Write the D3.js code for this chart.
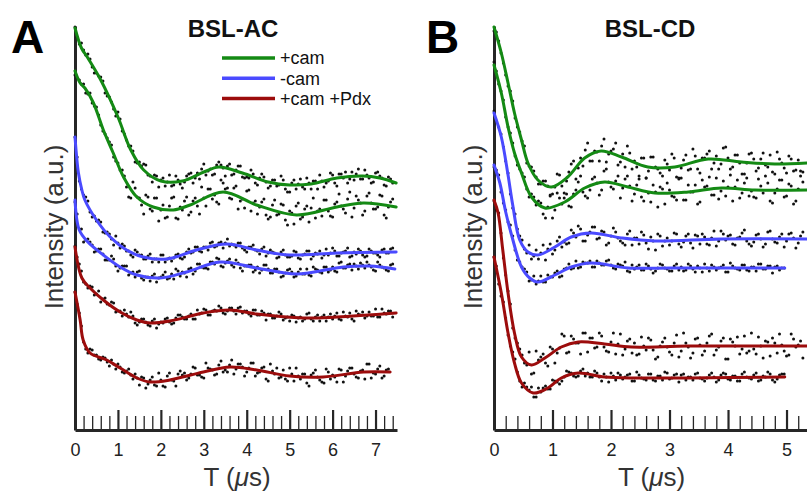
<!DOCTYPE html>
<html>
<head>
<meta charset="utf-8">
<script src="https://cdn.jsdelivr.net/npm/d3@7"></script>
<style>
  body { margin: 0; background: #fff; }
  svg { display: block; font-family: "Liberation Sans", Arial, Helvetica, sans-serif; }
</style>
</head>
<body>
<svg id="chart" width="807" height="492"></svg>
<script>
// ── Data ─────────────────────────────────────────────────────────────────────
// Intensity in arbitrary units (0 = x-axis), time in microseconds.
const seriesNames = ["+cam", "-cam", "+cam +Pdx"];
const ticksA = [0, 1, 2, 3, 4, 5, 6, 7];
const ticksB = [0, 1, 2, 3, 4, 5];
const dtA = 0.1;   // raw traces, panel A: even samples at i*dt, odd samples at (i+0.5)*dt
const dtB = 0.08;  // same for panel B

// Panel A (BSL-AC) fitted curves: [t, intensity]
const fitA_cam1 = [[0,402],[0.15,382],[0.3,372],[0.6,350],[1.0,313],[1.3,280],[1.6,260],[2.0,249],[2.5,249],[3.0,258],[3.35,263],[3.9,257],[4.5,248],[5.0,245],[5.5,246],[6.1,252],[6.7,254],[7.1,252],[7.48,247]];
const fitA_cam2 = [[0,359],[0.12,347],[0.23,342],[0.43,327],[0.66,300],[0.89,277],[1.13,253],[1.44,233],[1.82,223],[2.29,220],[2.68,225],[3.45,238],[4.23,225],[5.16,215],[6.1,223],[6.72,227],[7.48,223]];
const fitA_nocam1 = [[0,293],[0.08,257],[0.16,240],[0.23,230],[0.5,210],[0.82,193],[1.2,180],[1.59,173],[2.14,171],[2.83,180],[3.53,186],[4.23,180],[5.0,175],[6.1,177],[7.48,178]];
const fitA_nocam2 = [[0,230],[0.1,200],[0.3,188],[0.66,175],[1.05,163],[1.44,155],[1.98,152],[2.6,158],[3.38,168],[4.23,162],[5.16,156],[6.25,163],[6.87,164],[7.45,161]];
const fitA_pdx1 = [[0,183],[0.16,152],[0.35,142],[0.66,130],[1.05,118],[1.44,110],[1.75,107],[2.21,109],[2.99,117],[3.61,120],[4.23,116],[5.32,112],[6.1,113],[7.48,117]];
const fitA_pdx2 = [[0,138],[0.12,110],[0.19,90],[0.35,77],[0.74,70],[1.05,62],[1.44,52],[1.75,48],[2.21,50],[2.99,58],[3.61,63],[4.23,60],[5.0,54],[5.78,53],[6.72,58],[7.34,58]];

// Panel A raw data
const dotsA_cam1 = [403,386,380,376,363,357,353,337,333,321,318,299,290,284,268,268,266,255,248,254,250,244,255,245,250,242,254,257,252,251,266,259,255,265,265,254,266,256,264,253,253,260,247,252,253,242,250,244,254,241,238,250,246,243,252,241,249,255,243,249,255,244,256,258,251,250,261,251,255,247,257,254,245,253,247];
const dotsA_cam1_odd = [393,387,375,371,357,354,349,334,328,314,311,296,284,279,267,264,265,254,255,243,252,248,244,254,246,248,256,247,257,261,255,261,256,268,262,264,255,260,264,252,252,256,245,256,248,244,250,245,250,238,247,241,251,241,247,249,241,249,247,257,247,256,252,247,258,256,251,260,252,248,258,252,244,251];
const dotsA_cam2 = [355,350,346,336,327,323,305,296,288,273,267,260,243,232,242,232,216,233,219,232,220,212,224,233,211,220,233,218,232,216,232,241,231,228,250,241,232,242,221,231,239,219,229,223,231,211,225,215,226,210,219,206,227,213,224,222,212,221,230,219,213,228,224,217,238,222,230,215,234,227,221,235,215,223,231];
const dotsA_cam2_odd = [352,346,337,337,324,315,299,292,285,269,260,254,233,248,233,225,235,221,232,209,225,213,232,212,223,229,215,229,224,243,224,241,235,226,247,242,231,244,229,222,240,227,216,228,215,213,230,216,225,205,217,224,211,221,208,232,219,214,230,214,226,236,221,231,213,234,227,219,237,221,223,234,212,228];
const dotsA_nocam1 = [293,249,235,229,213,209,208,197,196,185,187,186,179,175,180,175,171,174,168,171,175,168,172,172,176,171,178,177,183,179,183,180,188,184,188,187,184,185,187,182,178,183,180,176,183,177,178,172,178,175,173,179,172,175,179,171,177,179,175,175,182,174,177,179,173,178,181,175,174,179,177,173,181,177,182];
const dotsA_nocam1_odd = [273,241,233,218,214,210,198,198,191,194,182,184,179,173,178,175,171,176,171,168,175,171,169,175,172,173,181,178,183,178,183,187,183,187,182,191,186,183,187,180,183,185,179,181,174,180,177,173,180,173,174,178,171,176,179,174,176,172,181,177,179,174,178,182,174,176,179,173,181,177,175,180,177,181];
const dotsA_nocam2 = [228,201,188,191,185,179,181,170,170,171,159,164,164,157,153,159,150,153,154,148,153,158,152,151,159,158,153,162,159,166,162,161,168,172,164,167,171,163,167,159,164,165,160,157,165,161,157,161,153,157,161,153,158,156,161,154,161,158,163,158,163,158,168,162,166,166,161,165,168,163,159,165,162,159,166];
const dotsA_nocam2_odd = [216,201,190,188,178,181,176,170,174,164,162,164,155,158,158,152,153,149,156,152,155,151,156,161,154,157,161,156,166,163,162,168,166,171,163,169,165,170,162,164,165,158,163,160,165,157,161,158,154,160,158,154,161,156,155,163,160,157,163,160,159,167,162,165,160,164,167,162,165,160,168,163,160,165];
const dotsA_pdx1 = [184,166,148,142,143,136,128,132,125,127,119,114,116,118,107,108,111,105,109,102,108,111,108,107,115,113,111,116,111,116,121,115,119,119,122,116,122,119,122,117,119,114,120,115,117,116,112,114,116,112,109,114,112,109,116,111,113,109,115,113,111,117,110,114,117,109,116,118,114,114,121,113,117,119,113];
const dotsA_pdx1_odd = [173,159,146,144,135,139,131,126,128,118,119,120,113,114,105,111,108,104,111,106,107,112,106,112,115,111,114,111,120,117,120,115,120,124,117,119,122,116,123,119,116,120,115,119,110,116,112,118,110,113,115,108,113,111,117,109,115,113,109,116,114,111,118,113,111,119,115,112,118,114,113,121,116,119];
const dotsA_pdx2 = [138,117,88,77,80,75,70,72,64,66,66,58,59,55,56,45,52,46,53,44,50,43,57,49,56,55,50,56,62,55,52,62,60,56,69,60,65,56,66,63,58,67,54,58,63,49,59,62,53,51,62,49,54,56,47,55,60,50,47,58,55,48,60,54,62,56,52,60,66,52,56,64,54,61];
const dotsA_pdx2_odd = [126,104,81,81,75,71,73,68,70,61,63,57,61,51,52,53,42,50,45,57,44,54,50,44,59,57,52,63,55,53,67,61,55,65,58,58,70,61,66,54,62,67,57,62,51,66,56,52,60,49,56,62,51,56,44,57,53,48,61,51,53,61,48,59,62,53,59,51,66,57,61,52,60];

// Panel B (BSL-CD) fitted curves: [t, intensity]
const fitB_cam1 = [[0,403],[0.125,377],[0.24,347],[0.35,317],[0.47,290],[0.58,267],[0.75,250],[0.98,243],[1.26,253],[1.55,272],[1.83,279],[2.18,273],[2.63,263],[3.09,263],[3.66,271],[4.23,268],[4.8,266],[5.35,267]];
const fitB_cam2 = [[0,365],[0.125,337],[0.24,303],[0.35,277],[0.47,257],[0.64,233],[0.87,222],[1.21,228],[1.55,242],[1.89,248],[2.29,243],[2.75,237],[3.32,238],[3.89,242],[4.46,240],[5.35,240]];
const fitB_nocam1 = [[0,317],[0.125,293],[0.24,255],[0.32,225],[0.44,190],[0.58,178],[0.75,175],[1.04,183],[1.32,193],[1.66,197],[2.18,192],[2.75,189],[3.89,191],[5.35,191]];
const fitB_nocam2 = [[0,265],[0.1,247],[0.2,218],[0.3,195],[0.47,163],[0.61,152],[0.75,148],[1.04,155],[1.32,163],[1.66,167],[2.29,162],[3.03,162],[3.89,162],[4.97,162]];
const fitB_pdx1 = [[0,230],[0.07,217],[0.15,180],[0.24,137],[0.35,97],[0.47,73],[0.64,65],[0.87,72],[1.15,83],[1.44,88],[1.89,86],[2.35,83],[3.32,84],[5.35,84]];
const fitB_pdx2 = [[0,173],[0.125,137],[0.24,97],[0.35,67],[0.47,47],[0.67,37],[0.92,42],[1.15,52],[1.44,57],[1.89,53],[2.46,52],[3.32,52],[4.97,53]];

// Panel B raw data
const dotsB_cam1 = [399,389,367,344,329,303,289,267,263,253,246,249,234,243,255,237,258,269,262,264,287,269,278,284,268,279,287,268,263,277,269,254,272,259,273,261,254,266,276,253,262,275,261,274,257,272,279,267,261,282,272,263,275,256,267,277,259,271,265,275,256,271,262,274,259,270,258];
const dotsB_cam1_odd = [398,377,355,339,312,298,284,264,259,246,249,244,236,256,244,249,266,251,272,280,269,279,269,291,276,281,265,276,284,261,263,272,252,273,263,257,270,260,272,251,270,260,281,261,272,276,261,274,266,283,261,275,267,256,276,271,262,277,263,258,278,267,257,271,260,259];
const dotsB_cam2 = [368,346,330,303,287,265,257,241,236,225,227,212,235,220,232,232,224,236,248,238,232,251,247,240,261,243,249,232,251,244,236,251,229,237,245,223,241,247,234,230,252,230,238,245,228,243,253,235,231,249,243,229,250,237,252,239,232,244,254,229,237,250,233,246,226,241,248];
const dotsB_cam2_odd = [359,339,313,297,274,261,253,233,233,229,216,223,212,237,226,236,223,240,254,234,240,253,235,259,248,241,254,242,254,229,245,233,252,228,238,243,226,240,233,252,230,245,238,226,250,244,235,252,239,234,255,243,232,247,234,233,251,237,247,227,241,250,234,244,229,254];
const dotsB_nocam1 = [319,303,283,257,222,201,190,177,171,180,177,170,186,180,193,188,187,197,204,189,195,203,191,199,185,194,198,189,185,199,192,186,195,181,189,196,184,192,189,196,183,194,187,195,186,193,185,199,189,196,194,186,192,197,189,184,195,191,186,199,188,193,183,196,192,187,198];
const dotsB_nocam1_odd = [309,296,269,236,216,194,181,185,174,171,185,181,176,189,183,186,200,193,201,189,198,203,192,198,187,202,192,187,196,185,192,198,187,193,180,194,189,185,197,186,188,196,182,194,196,186,192,184,199,190,195,185,193,200,186,188,196,183,198,191,187,196,189,197,182,194];
const dotsB_nocam2 = [263,255,227,208,194,170,163,158,150,146,154,148,153,157,153,161,166,162,162,168,167,163,169,165,169,165,161,165,168,158,161,165,160,164,157,162,165,161,159,166,163,160,164,158,162,166,159,163,162,165,158,164,161,165,160,163,159,166,161,164,163,160,162];
const dotsB_nocam2_odd = [260,238,220,205,180,168,161,149,154,149,148,155,153,159,154,162,161,169,163,167,169,163,167,165,170,162,166,164,159,165,163,160,166,161,159,166,162,159,164,160,159,166,161,164,158,162,165,160,163,158,167,162,160,165,159,163,166,161,164,157,164,162];
const dotsB_pdx1 = [229,217,172,139,102,87,75,65,56,79,73,67,83,67,82,94,78,91,87,97,78,92,83,94,79,88,76,96,81,91,87,76,84,92,80,73,88,83,75,95,79,87,72,91,85,79,94,75,83,92,71,88,93,81,77,97,76,84,89,74,87,96,79,75,91,85,72];
const dotsB_pdx1_odd = [220,197,155,126,92,81,67,78,57,70,76,64,81,77,96,77,94,87,76,97,92,82,97,83,78,97,86,75,89,77,75,93,80,90,71,84,92,78,87,73,97,83,77,92,75,87,96,80,89,71,91,84,76,94,79,81,93,72,88,92,77,85,74,96,83,89];
const dotsB_pdx2 = [173,146,128,95,78,58,43,43,43,33,38,44,41,49,46,53,58,54,54,61,57,53,57,49,53,57,50,55,53,56,49,55,51,56,50,54,50,57,52,56,55,50,53,56,52,49,55,53,50,57,51,54,49,56,53,51,57,50,53,56,48,55,56];
const dotsB_pdx2_odd = [164,134,112,84,71,49,47,40,33,42,42,41,50,48,49,59,57,53,59,54,53,59,53,56,48,54,57,51,55,49,58,52,50,56,49,54,58,51,55,48,56,53,50,57,51,52,57,48,55,56,50,54,49,58,52,55,49,54,58,50,51,56];

// ── Styles ───────────────────────────────────────────────────────────────────
const COLORS = ["#148a14", "#4a4aff", "#9c0c0c"];
const AXIS_COLOR = "#262626";

// ── Chart ────────────────────────────────────────────────────────────────────
const svg = d3.select("#chart");
const y = d3.scaleLinear().domain([0, 404]).range([430, 26]);

const panels = [
  {
    letter: "A", title: "BSL-AC", tMax: 7.5, x0: 75, x1: 397, dt: dtA, ticks: ticksA,
    letterX: 11, titleX: 233, yLabelX: 63,
    traces: [
      { fit: fitA_cam1,   even: dotsA_cam1,   odd: dotsA_cam1_odd,   s: 0 },
      { fit: fitA_cam2,   even: dotsA_cam2,   odd: dotsA_cam2_odd,   s: 0 },
      { fit: fitA_nocam1, even: dotsA_nocam1, odd: dotsA_nocam1_odd, s: 1 },
      { fit: fitA_nocam2, even: dotsA_nocam2, odd: dotsA_nocam2_odd, s: 1 },
      { fit: fitA_pdx1,   even: dotsA_pdx1,   odd: dotsA_pdx1_odd,   s: 2 },
      { fit: fitA_pdx2,   even: dotsA_pdx2,   odd: dotsA_pdx2_odd,   s: 2 }
    ]
  },
  {
    letter: "B", title: "BSL-CD", tMax: 5.35, x0: 494, x1: 807, dt: dtB, ticks: ticksB,
    letterX: 426, titleX: 650, yLabelX: 482,
    traces: [
      { fit: fitB_cam1,   even: dotsB_cam1,   odd: dotsB_cam1_odd,   s: 0 },
      { fit: fitB_cam2,   even: dotsB_cam2,   odd: dotsB_cam2_odd,   s: 0 },
      { fit: fitB_nocam1, even: dotsB_nocam1, odd: dotsB_nocam1_odd, s: 1 },
      { fit: fitB_nocam2, even: dotsB_nocam2, odd: dotsB_nocam2_odd, s: 1 },
      { fit: fitB_pdx1,   even: dotsB_pdx1,   odd: dotsB_pdx1_odd,   s: 2 },
      { fit: fitB_pdx2,   even: dotsB_pdx2,   odd: dotsB_pdx2_odd,   s: 2 }
    ]
  }
];

function drawPanel(p) {
  const x = d3.scaleLinear().domain([0, p.tMax]).range([p.x0, p.x1]);
  const g = svg.append("g");

  // minor ticks every 0.2 us, major ticks on integers (pointing up)
  const minor = d3.range(1, Math.floor(p.tMax * 5) + 1).map(i => i / 5)
    .filter(v => Math.abs(v - Math.round(v)) > 1e-6);
  const minorG = g.append("g").attr("transform", `translate(0,${y(0)})`)
    .call(d3.axisBottom(x).tickValues(minor).tickSize(-14).tickSizeOuter(0).tickFormat(""));
  minorG.select(".domain").remove();
  minorG.selectAll(".tick line").attr("stroke", AXIS_COLOR).attr("stroke-width", 1.3);

  const majorG = g.append("g").attr("transform", `translate(0,${y(0)})`)
    .call(d3.axisBottom(x).tickValues(p.ticks).tickSize(-20).tickSizeOuter(0).tickPadding(13).tickFormat(d3.format("d")));
  majorG.select(".domain").attr("stroke", AXIS_COLOR).attr("stroke-width", 3);
  majorG.selectAll(".tick line").attr("stroke", AXIS_COLOR).attr("stroke-width", 2.2);
  majorG.selectAll(".tick text").attr("font-size", 18).attr("fill", "#222")
    .attr("font-family", "'Liberation Sans', Arial, sans-serif");

  const yG = g.append("g").attr("transform", `translate(${p.x0},0)`)
    .call(d3.axisLeft(y).tickValues([]).tickSizeOuter(0));
  yG.select(".domain").attr("stroke", AXIS_COLOR).attr("stroke-width", 3);

  // raw data points (even and odd samples)
  p.traces.forEach(tr => {
    const pts = tr.even.map((v, i) => [i * p.dt, v])
      .concat(tr.odd.map((v, i) => [(i + 0.5) * p.dt, v]));
    g.append("g").selectAll("circle")
      .data(pts)
      .join("circle")
      .attr("cx", d => x(d[0]))
      .attr("cy", d => y(d[1]))
      .attr("r", 1.5)
      .attr("fill", "#111");
  });

  // fits on top
  const line = d3.line().x(d => x(d[0])).y(d => y(d[1])).curve(d3.curveCatmullRom.alpha(0.5));
  p.traces.forEach(tr => {
    g.append("path").datum(tr.fit)
      .attr("d", line)
      .attr("fill", "none")
      .attr("stroke", COLORS[tr.s])
      .attr("stroke-width", 3)
      .attr("stroke-linejoin", "round")
      .attr("stroke-linecap", "round");
  });

  // labels
  g.append("text").attr("x", p.letterX).attr("y", 53)
    .attr("font-size", 46).attr("font-weight", "bold").attr("fill", "#000").text(p.letter);
  g.append("text").attr("x", p.titleX).attr("y", 37).attr("text-anchor", "middle")
    .attr("font-size", 24).attr("font-weight", "bold").attr("fill", "#111").text(p.title);

  const xl = g.append("text").attr("x", (p.x0 + p.x1) / 2 + 1).attr("y", 486)
    .attr("text-anchor", "middle").attr("font-size", 26).attr("fill", "#333");
  xl.append("tspan").text("T (");
  xl.append("tspan").attr("font-style", "italic").text("μ");
  xl.append("tspan").text("s)");

  g.append("text")
    .attr("transform", `translate(${p.yLabelX},227) rotate(-90)`)
    .attr("text-anchor", "middle").attr("font-size", 26).attr("fill", "#333")
    .text("Intensity (a.u.)");
}

panels.forEach(drawPanel);

// Legend (panel A)
const leg = svg.append("g").attr("transform", "translate(222,58)");
seriesNames.forEach((name, i) => {
  const row = leg.append("g").attr("transform", `translate(0,${i * 20.3})`);
  row.append("line").attr("x1", 0).attr("x2", 53).attr("y1", 0).attr("y2", 0)
    .attr("stroke", COLORS[i]).attr("stroke-width", 3.5);
  row.append("text").attr("x", 58).attr("y", 0).attr("dy", "0.35em")
    .attr("font-size", 18).attr("fill", "#111").text(name);
});
</script>
</body>
</html>
